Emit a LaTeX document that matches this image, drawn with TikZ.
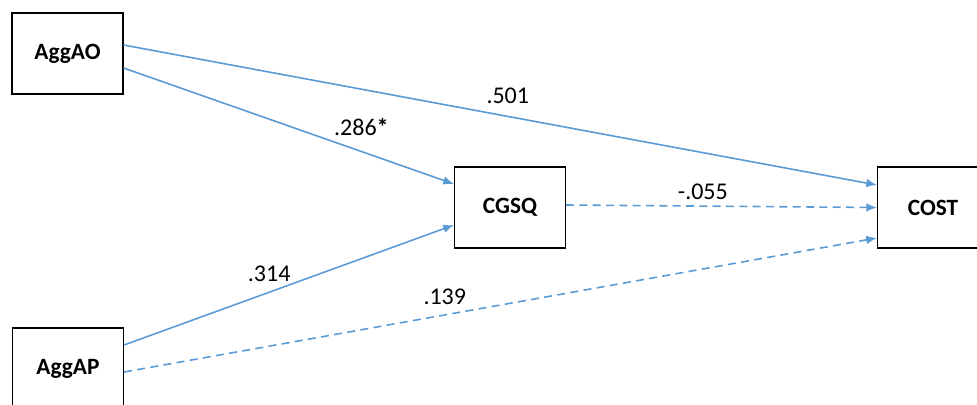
\documentclass[tikz,border=0pt]{standalone}
\usepackage{fontspec}
\setmainfont{Carlito}
\usetikzlibrary{arrows.meta,calc}
\definecolor{path}{RGB}{91, 155, 213}

\begin{document}
\begin{tikzpicture}[x=0.75pt, y=-0.75pt,
    var/.style={draw=black, line width=1.1pt, minimum width=83pt,
      minimum height=60.5pt, inner sep=0pt,
      font=\fontsize{17.5}{20}\selectfont\bfseries}, % caixas das variaveis
    coef/.style={inner sep=0pt, font=\fontsize{18}{21}\selectfont}, % coeficientes
    sig/.style={draw=path, line width=1.2pt, -{Latex[length=8pt, width=6.5pt]}},
    nsig/.style={sig, dash pattern=on 6pt off 4pt}
  ]
  \useasboundingbox (0,0) rectangle (977,404);

  \node[var] (AggAO) at (67.5,53.5) {AggAO};
  \node[var] (AggAP) at (68,368.5) {AggAP};
  \node[var] (CGSQ) at (510,207.5) {CGSQ};
  \node[var] (COST) at (933,207.5) {COST};

  \draw[sig] ($(AggAO.east)+(0,-8.5)$) -- ($(COST.west)+(0,-22.5)$)
    node[coef, pos=0.51, above=9pt] {.501};
  \draw[sig] ($(AggAO.east)+(0,14.5)$) -- ($(CGSQ.west)+(0,-23.5)$)
    node[coef, pos=0.72, above=11pt] {.286\textbf{*}};
  \draw[sig] ($(AggAP.east)+(0,-23.5)$) -- ($(CGSQ.west)+(0,17.5)$)
    node[coef, pos=0.44, above=7pt] {.314};
  \draw[nsig] ($(AggAP.east)+(0,3.5)$) -- ($(COST.west)+(0,30.5)$)
    node[coef, pos=0.426, above=7pt] {.139};
  \draw[nsig] ($(CGSQ.east)+(0,-2.5)$) -- (COST.west)
    node[coef, pos=0.44, above=4.5pt] {-.055};
\end{tikzpicture}
\end{document}
